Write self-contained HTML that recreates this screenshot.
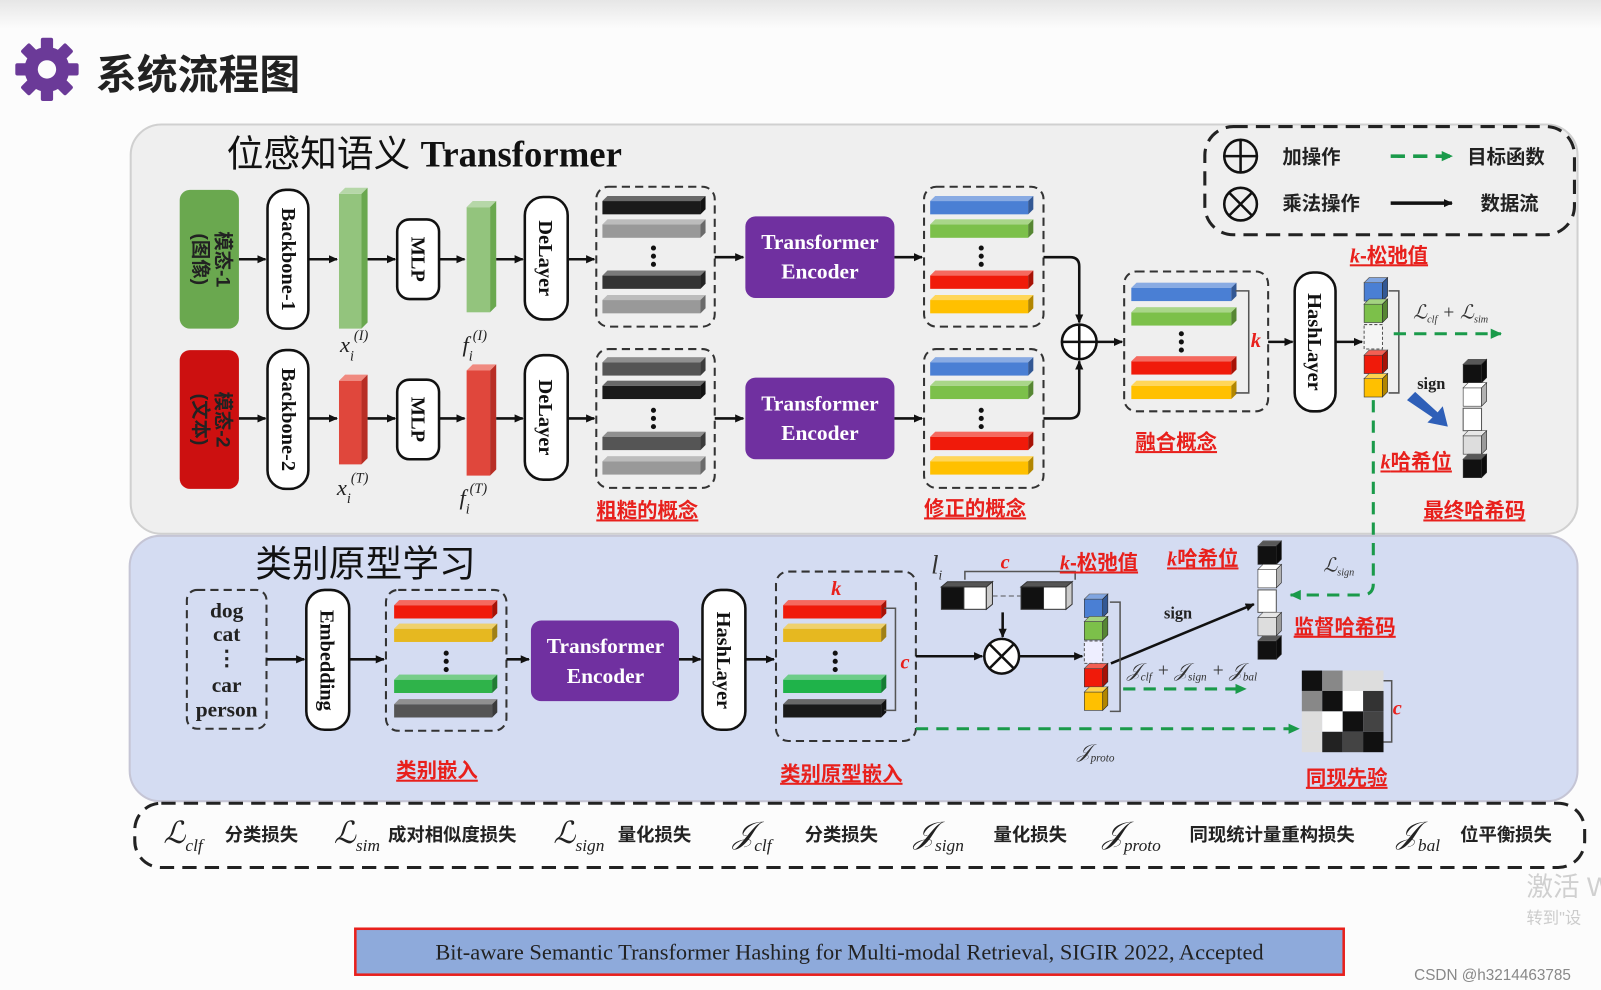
<!DOCTYPE html>
<html><head><meta charset="utf-8"><style>
body{margin:0;background:#fcfcfc;}
svg{display:block;font-family:"Liberation Serif","Noto Serif CJK SC",serif;}
.cn{font-family:"Liberation Sans","Noto Sans CJK SC",sans-serif;font-weight:bold;}
.red{fill:#e8201c;font-family:"Liberation Sans","Noto Sans CJK SC",sans-serif;font-weight:bold;font-size:20px;text-decoration:underline;}
</style></head><body>
<svg width="1601" height="990" viewBox="0 0 1568 970" preserveAspectRatio="none" xmlns="http://www.w3.org/2000/svg">
<defs>
<linearGradient id="tg" x1="0" y1="0" x2="0" y2="1"><stop offset="0" stop-color="#e6e6e6"/><stop offset="1" stop-color="#fcfcfc"/></linearGradient>
<marker id="ar" markerWidth="10" markerHeight="10" refX="8" refY="5" orient="auto" markerUnits="userSpaceOnUse"><path d="M0,1 L9,5 L0,9z" fill="#111"/></marker>
<marker id="ag" markerWidth="12" markerHeight="12" refX="10" refY="6" orient="auto" markerUnits="userSpaceOnUse"><path d="M0,1 L11,6 L0,11z" fill="#1a9a4a"/></marker>
<g id="bar"><rect x="0" y="5" width="96" height="13" fill="currentColor"/><polygon points="0,5 5,0 101,0 96,5" fill="currentColor"/><polygon points="0,5 5,0 101,0 96,5" fill="#fff" opacity="0.35"/><polygon points="96,5 101,0 101,13 96,18" fill="currentColor"/><polygon points="96,5 101,0 101,13 96,18" fill="#000" opacity="0.3"/></g>
<g id="cu"><rect x="0" y="5" width="18" height="18" fill="currentColor" stroke="#333" stroke-width="0.6"/><polygon points="0,5 5,0 23,0 18,5" fill="currentColor" stroke="#333" stroke-width="0.6"/><polygon points="0,5 5,0 23,0 18,5" fill="#fff" opacity="0.3"/><polygon points="18,5 23,0 23,18 18,23" fill="currentColor" stroke="#333" stroke-width="0.6"/><polygon points="18,5 23,0 23,18 18,23" fill="#000" opacity="0.3"/></g>
</defs>
<rect width="1568" height="970" fill="#fcfcfc"/>
<rect width="1568" height="28" fill="url(#tg)"/>
<g transform="translate(46,68)" fill="#6b3a98">
<circle r="22"/>
<g><rect x="-6" y="-31" width="12" height="62" rx="2"/><rect x="-6" y="-31" width="12" height="62" rx="2" transform="rotate(45)"/><rect x="-6" y="-31" width="12" height="62" rx="2" transform="rotate(90)"/><rect x="-6" y="-31" width="12" height="62" rx="2" transform="rotate(135)"/></g>
<circle r="9" fill="#fcfcfc"/></g>
<text x="94" y="87" class="cn" font-size="40" fill="#222">系统流程图</text>
<rect x="128" y="122" width="1417" height="401" rx="30" fill="#efefef" stroke="#d0d0d0" stroke-width="2"/>
<rect x="127" y="525" width="1418" height="260" rx="30" fill="#d4dcf2" stroke="#c5c5d5" stroke-width="2"/>
<text x="222" y="163" font-size="36" fill="#111"><tspan font-family="Liberation Sans,Noto Sans CJK SC,sans-serif">位感知语义 </tspan><tspan font-weight="bold">Transformer</tspan></text>
<text x="250" y="565" font-size="36" fill="#111" font-family="Liberation Sans,Noto Sans CJK SC,sans-serif">类别原型学习</text>
<rect x="1180" y="124" width="362" height="106" rx="28" fill="none" stroke="#222" stroke-width="3" stroke-dasharray="14,8"/>
<g stroke="#111" stroke-width="2.5" fill="none"><circle cx="1215" cy="153" r="16"/><path d="M1199,153h32M1215,137v32"/><circle cx="1215" cy="200" r="16"/><path d="M1204,189l22,22M1226,189l-22,22"/></g>
<text x="1256" y="160" class="cn" font-size="19" fill="#222">加操作</text>
<text x="1256" y="206" class="cn" font-size="19" fill="#222">乘法操作</text>
<line x1="1362" y1="153" x2="1422" y2="153" stroke="#1a9a4a" stroke-width="3.5" stroke-dasharray="14,8" marker-end="url(#ag)"/>
<line x1="1362" y1="199" x2="1422" y2="199" stroke="#111" stroke-width="3.5" marker-end="url(#ar)"/>
<text x="1437" y="160" class="cn" font-size="19" fill="#222">目标函数</text>
<text x="1450" y="206" class="cn" font-size="19" fill="#222">数据流</text>
<rect x="176" y="186" width="58" height="136" rx="10" fill="#6aa84f"/>
<rect x="176" y="343" width="58" height="136" rx="10" fill="#cc1010"/>
<text transform="translate(212,254) rotate(90)" text-anchor="middle" class="cn" font-size="19" fill="#222">模态-1</text>
<text transform="translate(190,254) rotate(90)" text-anchor="middle" class="cn" font-size="19" fill="#222">(图像)</text>
<text transform="translate(212,411) rotate(90)" text-anchor="middle" class="cn" font-size="19" fill="#222">模态-2</text>
<text transform="translate(190,411) rotate(90)" text-anchor="middle" class="cn" font-size="19" fill="#222">(文本)</text>
<g fill="#fff" stroke="#111" stroke-width="2.5">
<rect x="262" y="186" width="40" height="136" rx="18"/><rect x="262" y="343" width="40" height="136" rx="18"/>
<rect x="389" y="215" width="41" height="78" rx="12"/><rect x="389" y="372" width="41" height="78" rx="12"/>
<rect x="514" y="193" width="42" height="120" rx="18"/><rect x="514" y="348" width="42" height="122" rx="18"/>
<rect x="1268" y="267" width="40" height="136" rx="18"/>
<rect x="300" y="578" width="42" height="137" rx="18"/>
<rect x="688" y="578" width="42" height="137" rx="18"/>
</g>
<g font-weight="bold" font-size="20" fill="#111" text-anchor="middle">
<text transform="translate(276,254) rotate(90)">Backbone-1</text>
<text transform="translate(276,411) rotate(90)">Backbone-2</text>
<text transform="translate(403,254) rotate(90)">MLP</text>
<text transform="translate(403,411) rotate(90)">MLP</text>
<text transform="translate(528,253) rotate(90)">DeLayer</text>
<text transform="translate(528,409) rotate(90)">DeLayer</text>
<text transform="translate(1281,335) rotate(90)">HashLayer</text>
<text transform="translate(314,647) rotate(90)">Embedding</text>
<text transform="translate(702,647) rotate(90)">HashLayer</text>
</g>
<g><rect x="332" y="190" width="22" height="132" fill="#93c47d"/><polygon points="332,190 338,184 360,184 354,190" fill="#b6d7a8"/><polygon points="354,190 360,184 360,316 354,322" fill="#6aa84f"/>
<rect x="457" y="203" width="23" height="103" fill="#93c47d"/><polygon points="457,203 463,197 486,197 480,203" fill="#b6d7a8"/><polygon points="480,203 486,197 486,300 480,306" fill="#6aa84f"/>
<rect x="332" y="373" width="22" height="82" fill="#e0473c"/><polygon points="332,373 338,367 360,367 354,373" fill="#f08a80"/><polygon points="354,373 360,367 360,449 354,455" fill="#b82e25"/>
<rect x="457" y="363" width="23" height="103" fill="#e0473c"/><polygon points="457,363 463,357 486,357 480,363" fill="#f08a80"/><polygon points="480,363 486,357 486,460 480,466" fill="#b82e25"/></g>
<g font-style="italic" font-size="22" fill="#222"><text x="333" y="345">x<tspan font-size="14" dy="8">i</tspan><tspan font-size="14" dy="-20">(I)</tspan></text>
<text x="453" y="345">f<tspan font-size="14" dy="8">i</tspan><tspan font-size="14" dy="-20">(I)</tspan></text>
<text x="330" y="485">x<tspan font-size="14" dy="8">i</tspan><tspan font-size="14" dy="-20">(T)</tspan></text>
<text x="450" y="495">f<tspan font-size="14" dy="8">i</tspan><tspan font-size="14" dy="-20">(T)</tspan></text></g>
<g fill="none" stroke="#333" stroke-width="2" stroke-dasharray="8,5">
<rect x="584" y="183" width="116" height="137" rx="12"/><rect x="584" y="342" width="116" height="136" rx="12"/>
<rect x="905" y="183" width="117" height="137" rx="12"/><rect x="905" y="342" width="117" height="136" rx="12"/>
<rect x="1101" y="266" width="141" height="137" rx="12"/>
<rect x="183" y="578" width="78" height="136" rx="10"/>
<rect x="378" y="578" width="118" height="138" rx="12"/>
<rect x="760" y="560" width="137" height="166" rx="12"/>
</g>
<use href="#bar" x="590" y="192" color="#1a1a1a"/><use href="#bar" x="590" y="215" color="#999"/><use href="#bar" x="590" y="265" color="#333"/><use href="#bar" x="590" y="289" color="#999"/>
<use href="#bar" x="590" y="350" color="#555"/><use href="#bar" x="590" y="373" color="#1a1a1a"/><use href="#bar" x="590" y="423" color="#555"/><use href="#bar" x="590" y="447" color="#999"/>
<use href="#bar" x="911" y="192" color="#4a7fd4"/><use href="#bar" x="911" y="215" color="#7cc04a"/><use href="#bar" x="911" y="265" color="#f01a0a"/><use href="#bar" x="911" y="289" color="#ffc000"/>
<use href="#bar" x="911" y="350" color="#4a7fd4"/><use href="#bar" x="911" y="373" color="#7cc04a"/><use href="#bar" x="911" y="423" color="#f01a0a"/><use href="#bar" x="911" y="447" color="#ffc000"/>
<g transform="translate(1108,277) scale(1.02,1)"><use href="#bar" x="0" y="0" color="#4a7fd4"/><use href="#bar" x="0" y="24" color="#7cc04a"/><use href="#bar" x="0" y="72" color="#f01a0a"/><use href="#bar" x="0" y="96" color="#ffc000"/></g>
<use href="#bar" x="386" y="588" color="#f01a0a"/><use href="#bar" x="386" y="611" color="#e6b820"/><use href="#bar" x="386" y="661" color="#2fb34a"/><use href="#bar" x="386" y="685" color="#555"/>
<use href="#bar" x="767" y="588" color="#f01a0a"/><use href="#bar" x="767" y="611" color="#e6b820"/><use href="#bar" x="767" y="661" color="#1fb34a"/><use href="#bar" x="767" y="685" color="#1a1a1a"/>
<g fill="#111"><circle cx="640" cy="243" r="2.5"/><circle cx="640" cy="251" r="2.5"/><circle cx="640" cy="259" r="2.5"/><circle cx="640" cy="402" r="2.5"/><circle cx="640" cy="410" r="2.5"/><circle cx="640" cy="418" r="2.5"/>
<circle cx="961" cy="243" r="2.5"/><circle cx="961" cy="251" r="2.5"/><circle cx="961" cy="259" r="2.5"/><circle cx="961" cy="402" r="2.5"/><circle cx="961" cy="410" r="2.5"/><circle cx="961" cy="418" r="2.5"/>
<circle cx="1157" cy="327" r="2.5"/><circle cx="1157" cy="335" r="2.5"/><circle cx="1157" cy="343" r="2.5"/>
<circle cx="437" cy="640" r="2.5"/><circle cx="437" cy="648" r="2.5"/><circle cx="437" cy="656" r="2.5"/>
<circle cx="818" cy="640" r="2.5"/><circle cx="818" cy="648" r="2.5"/><circle cx="818" cy="656" r="2.5"/></g>
<g fill="#7030a0"><rect x="730" y="212" width="146" height="80" rx="10"/><rect x="730" y="370" width="146" height="80" rx="10"/><rect x="520" y="608" width="145" height="79" rx="10"/></g>
<g fill="#fff" font-weight="bold" font-size="21" text-anchor="middle"><text x="803" y="244">Transformer</text><text x="803" y="273">Encoder</text><text x="803" y="402">Transformer</text><text x="803" y="431">Encoder</text><text x="593" y="640">Transformer</text><text x="593" y="669">Encoder</text></g>
<g stroke="#111" stroke-width="2.5" fill="none" marker-end="url(#ar)">
<line x1="234" y1="254" x2="260" y2="254"/><line x1="302" y1="254" x2="330" y2="254"/><line x1="360" y1="254" x2="387" y2="254"/><line x1="430" y1="254" x2="455" y2="254"/><line x1="486" y1="254" x2="512" y2="254"/><line x1="556" y1="254" x2="582" y2="254"/><line x1="700" y1="252" x2="728" y2="252"/><line x1="876" y1="252" x2="903" y2="252"/>
<line x1="234" y1="410" x2="260" y2="410"/><line x1="302" y1="410" x2="330" y2="410"/><line x1="360" y1="410" x2="387" y2="410"/><line x1="430" y1="410" x2="455" y2="410"/><line x1="486" y1="410" x2="512" y2="410"/><line x1="556" y1="410" x2="582" y2="410"/><line x1="700" y1="410" x2="728" y2="410"/><line x1="876" y1="410" x2="903" y2="410"/>
<path d="M1022,252 H1048 Q1057,252 1057,261 V316"/><path d="M1022,410 H1048 Q1057,410 1057,401 V354"/>
<line x1="1074" y1="335" x2="1099" y2="335"/><line x1="1242" y1="335" x2="1266" y2="335"/><line x1="1308" y1="335" x2="1334" y2="335"/>
<line x1="261" y1="646" x2="298" y2="646"/><line x1="342" y1="646" x2="376" y2="646"/><line x1="496" y1="646" x2="518" y2="646"/><line x1="665" y1="646" x2="686" y2="646"/><line x1="730" y1="646" x2="758" y2="646"/>
<line x1="897" y1="643" x2="962" y2="643"/><line x1="999" y1="643" x2="1060" y2="643"/><line x1="982" y1="600" x2="982" y2="624"/>
<line x1="1088" y1="650" x2="1228" y2="592"/>
</g>
<g stroke="#111" stroke-width="2.5" fill="#fff"><circle cx="1057" cy="335" r="17"/><circle cx="981" cy="643" r="17"/></g>
<g stroke="#111" stroke-width="2.5"><path d="M1040,335h34M1057,318v34"/><path d="M969,631l24,24M993,631l-24,24"/></g>
<g stroke="#555" stroke-width="1.5" fill="none"><path d="M1210,285h13v100h-13"/><path d="M1360,285h10v100h-10"/><path d="M866,596h11v100h-11"/><path d="M1087,590h10v107h-10"/><path d="M1355,667h8v60h-8"/><path d="M945,568v-8h108v8"/></g>
<use href="#cu" x="1336" y="272" color="#4a7fd4"/><use href="#cu" x="1336" y="293" color="#7cc04a"/><rect x="1336" y="318" width="18" height="24" fill="#f5f5f5" stroke="#555" stroke-dasharray="3,2"/><use href="#cu" x="1336" y="343" color="#f01a0a"/><use href="#cu" x="1336" y="366" color="#ffc000"/>
<use href="#cu" x="1433" y="352" color="#111"/><use href="#cu" x="1433" y="375" color="#fff"/><rect x="1433" y="400" width="18" height="22" fill="#fff" stroke="#555"/><use href="#cu" x="1433" y="422" color="#ddd"/><use href="#cu" x="1433" y="445" color="#111"/>
<polygon points="1378,392 1386,384 1408,404 1413,398 1418,418 1398,414 1403,409" fill="#2e5fb8"/>
<text x="1388" y="381" font-weight="bold" font-size="16" fill="#222">sign</text>
<g stroke="#1a9a4a" stroke-width="3" fill="none" stroke-dasharray="12,8">
<line x1="1365" y1="327" x2="1470" y2="327" marker-end="url(#ag)"/>
<path d="M1345,392 V572 Q1345,583 1334,583 H1264" marker-end="url(#ag)"/>
<line x1="1100" y1="675" x2="1220" y2="675" marker-end="url(#ag)"/>
<line x1="897" y1="714" x2="1272" y2="714" marker-end="url(#ag)"/>
</g>
<g font-style="italic" font-size="19" fill="#333"><text x="1384" y="312">ℒ<tspan font-size="10" dy="4">clf</tspan><tspan dy="-4"> + ℒ</tspan><tspan font-size="10" dy="4">sim</tspan></text>
<text x="1296" y="560">ℒ<tspan font-size="10" dy="4">sign</tspan></text>
<text x="1104" y="663">𝒥<tspan font-size="11" dy="4">clf</tspan><tspan dy="-4"> + 𝒥</tspan><tspan font-size="11" dy="4">sign</tspan><tspan dy="-4"> + 𝒥</tspan><tspan font-size="11" dy="4">bal</tspan></text>
<text x="1055" y="742">𝒥<tspan font-size="11" dy="4">proto</tspan></text>
<text x="912" y="562" font-size="26">l<tspan font-size="13" dy="6">i</tspan></text></g>
<g stroke="#333" stroke-width="1"><rect x="922" y="575" width="22" height="22" fill="#111"/><rect x="944" y="575" width="22" height="22" fill="#fff"/><polygon points="966,575 972,570 972,592 966,597" fill="#ccc"/><polygon points="922,575 928,570 972,570 966,575" fill="#555"/>
<rect x="1000" y="575" width="22" height="22" fill="#111"/><rect x="1022" y="575" width="22" height="22" fill="#fff"/><polygon points="1044,575 1050,570 1050,592 1044,597" fill="#ccc"/><polygon points="1000,575 1006,570 1050,570 1044,575" fill="#555"/></g>
<line x1="972" y1="584" x2="1000" y2="584" stroke="#555" stroke-dasharray="5,3"/>
<use href="#cu" x="1062" y="582" color="#4a7fd4"/><use href="#cu" x="1062" y="604" color="#7cc04a"/><rect x="1062" y="628" width="18" height="22" fill="#eef" stroke="#555" stroke-dasharray="3,2"/><use href="#cu" x="1062" y="650" color="#f01a0a"/><use href="#cu" x="1062" y="673" color="#ffc000"/>
<use href="#cu" x="1232" y="530" color="#111"/><use href="#cu" x="1232" y="553" color="#fff"/><rect x="1232" y="578" width="18" height="22" fill="#fff" stroke="#555"/><use href="#cu" x="1232" y="600" color="#ddd"/><use href="#cu" x="1232" y="623" color="#111"/>
<text x="1140" y="606" font-weight="bold" font-size="16" fill="#222">sign</text>
<g><rect x="1275" y="657" width="20" height="20" fill="#111"/><rect x="1295" y="657" width="20" height="20" fill="#888"/><rect x="1315" y="657" width="20" height="20" fill="#ddd"/><rect x="1335" y="657" width="20" height="20" fill="#ddd"/>
<rect x="1275" y="677" width="20" height="20" fill="#888"/><rect x="1295" y="677" width="20" height="20" fill="#111"/><rect x="1315" y="677" width="20" height="20" fill="#fff"/><rect x="1335" y="677" width="20" height="20" fill="#333"/>
<rect x="1275" y="697" width="20" height="20" fill="#ddd"/><rect x="1295" y="697" width="20" height="20" fill="#fff"/><rect x="1315" y="697" width="20" height="20" fill="#111"/><rect x="1335" y="697" width="20" height="20" fill="#444"/>
<rect x="1275" y="717" width="20" height="20" fill="#ddd"/><rect x="1295" y="717" width="20" height="20" fill="#222"/><rect x="1315" y="717" width="20" height="20" fill="#444"/><rect x="1335" y="717" width="20" height="20" fill="#111"/></g>
<g font-weight="bold" font-size="21" fill="#222" text-anchor="middle"><text x="222" y="605">dog</text><text x="222" y="628">cat</text><text x="222" y="652">⋮</text><text x="222" y="678">car</text><text x="222" y="702">person</text></g>
<text x="584" y="507" class="red">粗糙的概念</text>
<text x="905" y="505" class="red">修正的概念</text>
<text x="1112" y="440" class="red">融合概念</text>
<text x="1322" y="257" class="red"><tspan font-style="italic" font-family="Liberation Serif,serif">k</tspan>-松弛值</text>
<text x="1352" y="459" class="red"><tspan font-style="italic" font-family="Liberation Serif,serif">k</tspan>哈希位</text>
<text x="1394" y="507" class="red" text-decoration="none">最终哈希码</text>
<text x="388" y="762" class="red">类别嵌入</text>
<text x="764" y="765" class="red">类别原型嵌入</text>
<text x="1038" y="558" class="red"><tspan font-style="italic" font-family="Liberation Serif,serif">k</tspan>-松弛值</text>
<text x="1143" y="554" class="red"><tspan font-style="italic" font-family="Liberation Serif,serif">k</tspan>哈希位</text>
<text x="1267" y="621" class="red">监督哈希码</text>
<text x="1279" y="769" class="red">同现先验</text>
<g fill="#e8201c" font-style="italic" font-weight="bold" font-size="20"><text x="1225" y="340">k</text><text x="814" y="583">k</text><text x="980" y="557">c</text><text x="882" y="655">c</text><text x="1364" y="700">c</text></g>
<rect x="132" y="787" width="1420" height="63" rx="26" fill="none" stroke="#222" stroke-width="3" stroke-dasharray="14,8"/>
<g font-style="italic" font-size="30" fill="#222">
<text x="160" y="826">ℒ<tspan font-size="17" dy="8">clf</tspan></text>
<text x="327" y="826">ℒ<tspan font-size="17" dy="8">sim</tspan></text>
<text x="542" y="826">ℒ<tspan font-size="17" dy="8">sign</tspan></text>
<text x="718" y="826">𝒥<tspan font-size="17" dy="8">clf</tspan></text>
<text x="895" y="826">𝒥<tspan font-size="17" dy="8">sign</tspan></text>
<text x="1080" y="826">𝒥<tspan font-size="17" dy="8">proto</tspan></text>
<text x="1368" y="826">𝒥<tspan font-size="17" dy="8">bal</tspan></text></g>
<g class="cn" font-size="18" fill="#222"><text x="220" y="824">分类损失</text><text x="380" y="824">成对相似度损失</text><text x="605" y="824">量化损失</text><text x="788" y="824">分类损失</text><text x="973" y="824">量化损失</text><text x="1165" y="824">同现统计量重构损失</text><text x="1430" y="824">位平衡损失</text></g>
<rect x="348" y="910" width="968" height="45" fill="#8eaadb" stroke="#e8201c" stroke-width="2.5"/>
<text x="832" y="940" text-anchor="middle" font-size="22" fill="#222">Bit-aware Semantic Transformer Hashing for Multi-modal Retrieval,  SIGIR 2022, Accepted</text>
<text x="1495" y="878" font-size="26" fill="#d0d0d0" font-family="Liberation Sans,Noto Sans CJK SC,sans-serif">激活 W</text>
<text x="1495" y="905" font-size="16" fill="#ccc" font-family="Liberation Sans,Noto Sans CJK SC,sans-serif">转到"设</text>
<text x="1385" y="960" font-size="15" fill="#888" font-family="Liberation Sans,sans-serif">CSDN @h3214463785</text>
</svg>
</body></html>
